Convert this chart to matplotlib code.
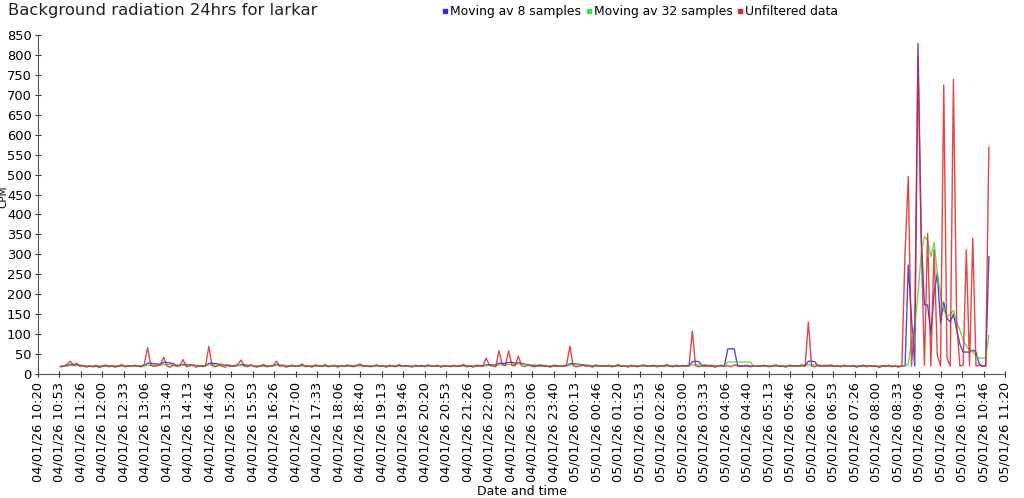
import datetime as dt
import matplotlib
matplotlib.use('Agg')
import matplotlib.pyplot as plt
import matplotlib.dates as mdates
from matplotlib.lines import Line2D
import pandas as pd

title = 'Background radiation 24hrs for larkar'
series_names = ['Moving av 8 samples', 'Moving av 32 samples', 'Unfiltered data']
series_colors = ['#2b2bd9', '#3fdc3f', '#e02424']

# samples every 5 minutes from 04/01/26 10:55
start_sample = dt.datetime(2026, 1, 4, 10, 55)
n_samples = 289

unfiltered = [
    18, 20, 24, 32, 22, 27, 19, 21, 17, 20, 18, 22, 16, 19, 23, 18, 21, 17, 20, 24, 18, 21, 19, 22,
    20, 18, 25, 66, 22, 19, 21, 24, 42, 20, 17, 22, 19, 21, 36, 18, 20, 23, 17, 21, 19, 22, 69, 21,
    18, 22, 20, 17, 23, 19, 21, 24, 35, 20, 18, 22, 19, 17, 21, 24, 18, 20, 22, 32, 19, 21, 17, 20,
    22, 19, 21, 25, 18, 20, 17, 23, 21, 19, 24, 18, 20, 22, 17, 21, 19, 23, 20, 18, 22, 25, 19, 21,
    18, 20, 23, 19, 21, 17, 22, 20, 18, 24, 19, 21, 20, 17, 22, 19, 21, 18, 23, 20, 19, 22, 17, 21,
    20, 18, 22, 19, 21, 24, 18, 20, 17, 22, 21, 19, 40, 23, 20, 18, 58, 24, 21, 58, 22, 20, 45, 21,
    19, 22, 20, 18, 21, 23, 19, 20, 17, 22, 21, 19, 20, 23, 70, 21, 18, 20, 22, 19, 21, 17, 23, 20,
    21, 19, 22, 18, 20, 24, 19, 21, 17, 22, 20, 18, 21, 23, 19, 20, 22, 18, 21, 19, 24, 20, 18, 22,
    19, 21, 20, 23, 108, 21, 18, 20, 22, 19, 21, 17, 20, 22, 19, 21, 18, 23, 20, 19, 21, 22, 18, 20,
    21, 19, 22, 20, 18, 21, 23, 19, 20, 17, 22, 21, 19, 20, 23, 21, 130, 20, 18, 22, 19, 21, 20, 23,
    19, 21, 18, 22, 20, 19, 21, 17, 20, 22, 18, 21, 19, 20, 16, 21, 19, 22, 18, 20, 17, 21, 305, 495,
    20, 128, 796, 336, 22, 353, 20, 311, 47, 20, 725, 40, 20, 739, 130, 20, 22, 311, 20, 341, 20, 22, 19, 21,
    569,
]

avg8 = [
    19, 20, 21, 24, 24, 23, 22, 21, 20, 20, 19, 19, 19, 20, 20, 20, 19, 19, 20, 20, 20, 20, 20, 20,
    20, 20, 21, 27, 27, 26, 25, 24, 29, 29, 27, 26, 22, 21, 24, 24, 23, 22, 22, 20, 20, 20, 27, 27,
    26, 25, 24, 23, 21, 20, 20, 21, 23, 23, 22, 22, 21, 20, 20, 20, 20, 20, 21, 23, 22, 22, 21, 20,
    20, 20, 21, 21, 21, 20, 20, 20, 20, 20, 21, 20, 20, 20, 20, 20, 20, 20, 21, 21, 21, 21, 21, 20,
    20, 20, 21, 20, 20, 20, 19, 20, 20, 21, 20, 20, 20, 19, 20, 20, 20, 20, 21, 20, 20, 20, 19, 20,
    20, 20, 20, 20, 20, 21, 21, 20, 20, 20, 20, 20, 23, 23, 23, 22, 27, 27, 27, 29, 29, 27, 28, 27,
    25, 23, 22, 21, 20, 20, 20, 20, 20, 20, 20, 20, 20, 20, 26, 26, 25, 24, 23, 22, 21, 20, 20, 20,
    20, 20, 20, 20, 20, 21, 20, 20, 20, 20, 20, 20, 20, 21, 20, 20, 20, 20, 20, 20, 21, 20, 20, 20,
    20, 20, 20, 20, 31, 32, 31, 21, 20, 20, 20, 20, 20, 20, 22, 63, 63, 63, 22, 20, 20, 20, 20, 20,
    20, 20, 20, 20, 20, 20, 20, 20, 20, 20, 20, 20, 20, 20, 20, 20, 32, 32, 31, 20, 20, 20, 20, 20,
    20, 20, 20, 20, 20, 20, 20, 20, 20, 20, 20, 20, 20, 20, 19, 20, 20, 20, 20, 20, 19, 20, 20, 273,
    140, 20, 829, 350, 173, 173, 100, 202, 253, 128, 180, 140, 130, 150, 110, 75, 55, 55, 55, 60, 55, 25, 20, 20,
    294,
]

avg32 = [
    19, 19, 20, 21, 21, 21, 21, 21, 20, 20, 20, 20, 20, 20, 20, 20, 20, 20, 20, 20, 20, 20, 20, 20,
    20, 20, 20, 22, 22, 22, 22, 22, 23, 23, 23, 23, 22, 22, 22, 22, 22, 21, 21, 21, 21, 21, 23, 23,
    23, 23, 22, 22, 22, 22, 21, 21, 21, 21, 21, 21, 21, 21, 20, 20, 20, 20, 20, 21, 21, 21, 21, 21,
    20, 20, 20, 20, 21, 21, 21, 20, 20, 20, 20, 20, 20, 20, 20, 20, 20, 20, 20, 20, 21, 21, 20, 20,
    20, 20, 20, 20, 20, 20, 20, 20, 20, 20, 20, 20, 20, 20, 20, 20, 20, 20, 20, 20, 20, 20, 20, 20,
    20, 20, 20, 20, 20, 20, 20, 20, 20, 20, 20, 20, 21, 21, 21, 21, 23, 23, 23, 24, 24, 24, 25, 25,
    24, 24, 23, 23, 22, 22, 22, 21, 21, 21, 21, 21, 21, 21, 23, 23, 23, 23, 22, 22, 22, 21, 21, 21,
    21, 20, 20, 20, 20, 20, 20, 20, 20, 20, 20, 20, 20, 20, 20, 20, 20, 20, 20, 20, 20, 20, 20, 20,
    20, 20, 20, 20, 23, 23, 23, 23, 23, 22, 22, 22, 21, 21, 21, 30, 30, 30, 30, 30, 30, 30, 30, 20,
    20, 20, 20, 20, 20, 20, 20, 20, 20, 20, 20, 20, 20, 20, 20, 20, 23, 23, 23, 23, 22, 22, 22, 21,
    21, 21, 20, 20, 20, 20, 20, 20, 20, 20, 20, 20, 20, 20, 20, 20, 20, 20, 20, 20, 20, 20, 20, 25,
    85, 120, 200, 300, 345, 335, 294, 330, 253, 200, 160, 144, 150, 160, 130, 110, 85, 70, 60, 55, 45, 40, 40, 40,
    97,
]

y_ticks = list(range(0, 851, 50))
x_start = dt.datetime(2026, 1, 4, 10, 20)
x_end = dt.datetime(2026, 1, 5, 11, 20)
n_x_ticks = 46

times = pd.date_range(start_sample, periods=n_samples, freq='5min')
df = pd.DataFrame({series_names[0]: avg8, series_names[1]: avg32, series_names[2]: unfiltered}, index=times)

fig = plt.figure(figsize=(10.24, 4.98), dpi=100)
ax = fig.add_axes([38 / 1024, 1 - 374 / 498, 967 / 1024, 339 / 498])

for name, color in zip(series_names, series_colors):
    ax.plot(df.index, df[name], color=color, lw=1.0, alpha=0.85)

step = (x_end - x_start) / (n_x_ticks - 1)
x_ticks = [x_start + step * k for k in range(n_x_ticks)]
ax.set_xlim(x_start, x_end)
ax.set_xticks(x_ticks)
ax.xaxis.set_major_formatter(mdates.DateFormatter('%d/%m/%y %H:%M'))
ax.set_ylim(0, 850)
ax.set_yticks(y_ticks)

ax.tick_params(axis='x', labelrotation=90, labelsize=9.4, direction='inout', length=5, color='#333333', pad=3)
ax.tick_params(axis='y', labelsize=9.4, direction='inout', length=5, color='#333333', pad=2)
for side in ['top', 'right']:
    ax.spines[side].set_visible(False)
for side in ['left', 'bottom']:
    ax.spines[side].set_color('#555555')
ax.set_xlabel('Date and time', fontsize=9, labelpad=2)

# y label sits at the very left edge, as in the original
fig.text(3 / 1024, 1 - 197 / 498, 'CPM', fontsize=7.5, rotation=90, va='center', ha='center')

fig.text(8 / 1024, 1 - 10 / 498, title, fontsize=11.8, va='center', ha='left', color='#222222')

handles = [Line2D([], [], marker='s', linestyle='none', markersize=3.5, color=c) for c in series_colors]
fig.legend(handles, series_names, loc='upper left', bbox_to_anchor=(443 / 1024, 1 - 5 / 498),
           ncol=3, frameon=False, fontsize=8.9, handlelength=0.4, handletextpad=0.2,
           columnspacing=0.4, borderpad=0, borderaxespad=0)

plt.savefig('out.png', dpi=100)
